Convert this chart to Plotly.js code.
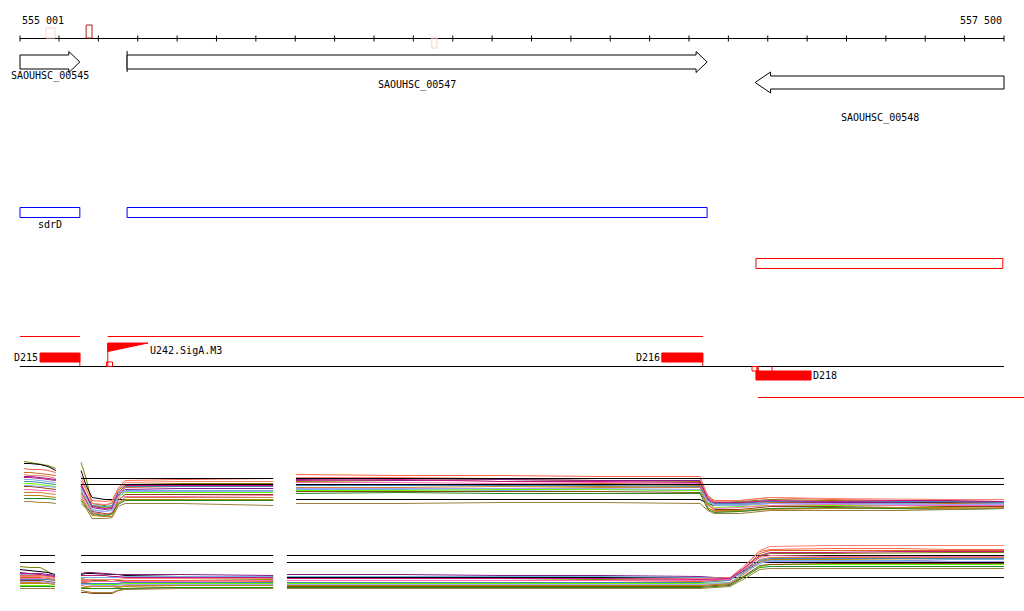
<!DOCTYPE html>
<html>
<head>
<meta charset="utf-8">
<script src="https://cdn.plot.ly/plotly-3.0.1.min.js"></script>
<style>html,body{margin:0;padding:0;background:#fff;}#chart{width:1024px;height:611px;}</style>
</head>
<body>
<div id="chart"></div>
<script>
// ---------------- DATA ----------------
const regionStart = 555001;
const regionEnd = 557500;
const regionLabels = ['555 001', '557 500'];

const geneNames = ['SAOUHSC_00545', 'SAOUHSC_00547', 'SAOUHSC_00548'];
const geneStarts = [555001, 555273, 556868];
const geneEnds = [555153, 556746, 557500];
const geneStrands = ['+', '+', '-'];

const operonNames = ['sdrD', ''];
const operonStarts = [555001, 555273];
const operonEnds = [555153, 556746];
const revOperonStarts = [556870];
const revOperonEnds = [557497];

const markerStarts = [555067, 555169, 556047];
const markerEnds = [555090, 555184, 556060];
const markerColors = ['#f8d3c6', '#b01c1c', '#f8d3c6'];

const fwdTUStarts = [555001, 555224];
const fwdTUEnds = [555153, 556736];
const revTUStarts = [556875];
const revTUEnds = [557551];

const termNames = ['D215', 'D216'];
const termStarts = [555052, 556631];
const termEnds = [555153, 556735];
const revTermNames = ['D218'];
const revTermStarts = [556870];
const revTermEnds = [557010];
const revTermSmallStarts = [556860, 556873];
const revTermSmallEnds = [556873, 556876];
const revTermTick = [556911];

const promoterNames = ['U242.SigA.M3'];
const promoterStarts = [555224];
const promoterEnds = [555326];

// expression tiles (arbitrary signal units), null = gap
const topX = [555011,555026,555052,555072,555092,null,
  555156,555169,555184,555217,555235,555250,555268,555407,555644,null,
  555702,555966,556220,556474,556728,556748,556764,556830,556906,557058,557236,557363,557500];
const bottomX = [555001,555026,555052,555072,555090,null,
  555156,555169,555184,555217,555235,555250,555268,555407,555644,null,
  555679,555966,556220,556474,556728,556804,556842,556880,556906,557058,557236,557363,557500];

const seriesColors = ['#808000','#000000','#ff6347','#d2691e','#8b1a8b','#6fb3e0','#66ff00',
  '#8b4513','#ff69b4','#cd853f','#b8860b','#228b22','#9c7f3a','#fa8072','#4682b4','#c71585','#a0a0ff'];

const topValues = [
  [59,58,57,55,52,null,58,42,17,15,18,30,36,37,37,null,39,40,41,40,39,25,20,19,21,20,19,19,18],
  [57,57,56,54,50,null,50,35,23,21,21,21,21,21,21,null,21,21,21,21,21,17,15,16,17,17,18,18,19],
  [52,51,51,50,48,null,40,30,20,19,20,32,40,41,42,null,46,45,45,44,44,24,20,20,23,21,20,21,21],
  [48,48,47,46,45,null,37,27,15,13,13,25,33,34,34,null,36,36,36,37,36,20,15,15,18,18,17,17,17],
  [44,44,43,42,41,null,34,25,13,11,12,25,31,32,32,null,41,40,41,40,40,21,17,18,19,18,18,19,18],
  [41,41,40,39,38,null,32,23,11,9,11,26,30,30,30,null,31,31,30,31,30,18,16,16,17,16,17,16,17],
  [37,37,36,35,34,null,30,21,14,13,14,23,28,28,28,null,30,30,31,31,30,17,13,14,15,15,15,14,14],
  [34,34,33,32,31,null,28,20,9,7,7,20,26,26,26,null,29,29,29,29,28,16,11,11,14,14,13,14,14],
  [31,31,30,30,29,null,26,18,8,6,8,22,24,24,25,null,38,38,37,38,37,15,12,13,15,16,15,15,15],
  [28,28,28,27,26,null,24,16,6,4,4,17,23,23,23,null,33,33,34,33,33,13,9,9,11,12,12,12,13],
  [25,25,25,24,23,null,22,14,5,4,6,18,21,21,21,null,36,35,35,34,35,12,10,10,12,12,13,13,12],
  [22,22,22,22,21,null,20,13,7,5,7,16,20,20,20,null,27,28,27,27,27,11,8,9,12,13,12,11,12],
  [19,19,18,18,17,null,17,12,2,2,3,14,17,17,15,null,17,17,18,18,17,10,7,7,10,10,10,11,12],
  [46,45,45,44,42,null,44,32,17,16,17,31,38,39,39,null,43,43,42,42,42,23,19,20,23,22,21,21,21],
  [39,39,38,37,36,null,35,26,15,14,15,28,34,34,34,null,35,35,35,35,34,21,17,17,19,19,19,19,18],
  [43,43,42,41,40,null,36,26,14,12,13,27,35,35,35,null,40,41,39,39,38,22,18,18,20,19,20,20,19],
  [35,35,34,34,33,null,31,22,10,9,10,24,29,29,29,null,32,32,32,32,31,19,15,15,17,17,16,16,16]
];
const bottomValues = [
  [39,38,38,34,27,null,27,26,25,25,24,25,25,25,26,null,25,25,25,26,25,26,35,49,52,52,53,53,53],
  [36,35,34,33,31,null,31,32,32,31,31,31,30,29,29,null,28,28,28,28,28,28,28,28,28,28,28,28,28],
  [30,30,30,29,28,null,25,25,24,24,24,24,25,25,25,null,25,25,25,25,25,27,40,54,56,57,57,56,56],
  [28,28,28,27,26,null,23,23,22,22,22,22,23,23,24,null,23,23,23,23,24,26,38,52,55,55,55,55,55],
  [33,32,32,31,30,null,32,33,33,32,31,31,31,31,30,null,31,31,30,30,29,27,35,43,45,45,45,44,44],
  [31,31,31,30,29,null,28,28,28,28,28,28,29,29,29,null,29,29,29,29,28,27,33,42,45,45,45,46,46],
  [20,20,20,20,21,null,21,21,21,21,21,21,22,22,22,null,22,22,22,22,22,23,29,39,41,41,41,41,41],
  [25,25,25,24,23,null,13,13,12,12,12,15,17,18,18,null,19,19,19,19,19,21,30,40,41,42,42,42,42],
  [27,27,27,26,25,null,24,24,24,24,24,24,24,24,25,null,25,25,25,25,25,26,37,48,50,49,49,49,49],
  [23,23,23,22,22,null,20,19,19,19,19,19,20,20,20,null,20,20,20,20,20,22,34,46,48,48,48,48,48],
  [22,22,22,22,21,null,18,18,17,17,17,18,19,20,20,null,20,20,20,20,20,22,32,44,46,46,47,47,47],
  [19,19,19,19,19,null,17,17,17,17,17,17,17,18,18,null,18,18,18,18,18,20,29,38,39,39,39,39,39],
  [17,17,17,17,17,null,15,14,13,13,13,15,16,17,17,null,17,17,17,17,17,19,27,36,37,37,37,37,37],
  [29,29,29,28,27,null,26,26,26,26,26,26,27,27,27,null,27,27,27,27,27,28,40,55,59,60,60,60,60],
  [26,26,26,26,25,null,22,22,22,22,22,22,23,23,23,null,23,23,23,23,23,25,36,45,47,47,47,47,47],
  [32,32,31,30,29,null,30,30,30,30,29,29,28,28,28,null,27,27,27,27,26,27,38,50,53,53,54,54,54],
  [24,24,24,23,22,null,21,21,20,20,20,20,21,21,21,null,21,21,21,21,21,23,33,43,44,44,44,44,44]
];
// reference levels
const topRefLevels = [42, 36];
const topRefX = [555156, 555644, null, 555702, 557500];
const bottomRefLevels = [50, 43];
const bottomRefX = [555001, 555090, null, 555156, 555644, null, 555679, 557500];

// ---------------- LAYOUT / DRAW ----------------
const W = 1024, H = 611;
const pxLeft = 20, pxRight = 1004;
const bpPerPx = (regionEnd - regionStart) / (pxRight - pxLeft);
const xRange = [regionStart - pxLeft * bpPerPx, regionEnd + (W - pxRight) * bpPerPx];

const shapes = [];
const annotations = [];
const font = {family: 'DejaVu Sans Mono', size: 10, color: '#000'};
function line(x0, x1, y0, y1, color) {
  shapes.push({type: 'line', xref: 'x', yref: 'y', x0, x1, y0, y1, line: {color, width: 1}});
}
function rect(x0, x1, y0, y1, color, fill) {
  shapes.push({type: 'rect', xref: 'x', yref: 'y', x0, x1, y0, y1,
    line: {color, width: 1}, fillcolor: fill || 'rgba(0,0,0,0)'});
}
function path(d, color, fill) {
  shapes.push({type: 'path', xref: 'x', yref: 'y', path: d,
    line: {color, width: 1}, fillcolor: fill || 'rgba(0,0,0,0)'});
}
function label(text, x, y, anchor) {
  annotations.push({text, x, y, xref: 'x', yref: 'y', showarrow: false,
    xanchor: anchor || 'center', yanchor: 'middle', font});
}

// ruler
const rulerY = 38.5;
line(regionStart, regionEnd, rulerY, rulerY, '#000');
label(regionLabels[0], regionStart, 20, 'left');
label(regionLabels[1], regionEnd, 20, 'right');
const tickX = [regionStart];
for (let t = Math.ceil((regionStart + 1) / 100) * 100; t <= regionEnd; t += 100) tickX.push(t);
tickX.forEach(t => line(t, t, 35.5, 41.5, '#000'));
// markers near ruler
const markerY = [[28, 38], [25, 38], [38, 48]];
markerStarts.forEach((s, i) => rect(s, markerEnds[i], markerY[i][0], markerY[i][1], markerColors[i]));

// genes
const geneRowY = [62, 62, 82.5];
const geneLabelY = [76, 85, 118];
const headBp = 28;
geneNames.forEach((n, i) => {
  const s = geneStarts[i], e = geneEnds[i], c = geneRowY[i];
  let d;
  if (geneStrands[i] === '+') {
    const h = e - headBp;
    d = `M${s},${c-7} L${h},${c-7} L${h},${c-10.5} L${e},${c} L${h},${c+10.5} L${h},${c+7} L${s},${c+7} Z`;
    if (i > 0) line(s, s, c - 11, c + 10, '#000');
  } else {
    const h = s + headBp * 1.4;
    d = `M${e},${c-6.5} L${h},${c-6.5} L${h},${c-10.5} L${s},${c} L${h},${c+10.5} L${h},${c+6.5} L${e},${c+6.5} Z`;
  }
  path(d, '#000', '#fff');
  label(n, (s + e) / 2, geneLabelY[i]);
});

// operons
operonStarts.forEach((s, i) => {
  rect(s, operonEnds[i], 207.5, 217.5, '#0000ff');
  if (operonNames[i]) label(operonNames[i], (s + operonEnds[i]) / 2, 224);
});
revOperonStarts.forEach((s, i) => rect(s, revOperonEnds[i], 258.5, 268.5, '#ff0000'));

// transcription units
fwdTUStarts.forEach((s, i) => line(s, fwdTUEnds[i], 336.5, 336.5, '#ff0000'));
revTUStarts.forEach((s, i) => line(s, revTUEnds[i], 397.5, 397.5, '#ff0000'));

// baseline
line(regionStart, regionEnd, 366.5, 366.5, '#000');

// terminators (forward)
termNames.forEach((n, i) => {
  rect(termStarts[i], termEnds[i], 353, 362, '#ff0000', '#ff0000');
  line(termEnds[i], termEnds[i], 353, 366, '#ff0000');
  label(n, termStarts[i], 357, 'right');
});
// promoter
promoterNames.forEach((n, i) => {
  const s = promoterStarts[i], e = promoterEnds[i];
  path(`M${s},343 L${e},343 L${s},351.5 Z`, '#ff0000', '#ff0000');
  line(s, s, 343, 366, '#ff0000');
  rect(s - 3, s + 12, 362, 366.5, '#ff0000');
  label(n, e, 350, 'left');
});
// terminators (reverse)
revTermNames.forEach((n, i) => {
  rect(revTermStarts[i], revTermEnds[i], 371, 380, '#ff0000', '#ff0000');
  label(n, revTermEnds[i], 375.5, 'left');
});
revTermSmallStarts.forEach((s, i) => rect(s, revTermSmallEnds[i], 366.5, 371, '#ff0000'));
revTermTick.forEach(t => line(t, t, 366.5, 371, '#ff0000'));

// expression traces
const traces = [];
function refTrace(xs, level, yaxis) {
  return {x: xs, y: xs.map(v => v === null ? null : level), yaxis, mode: 'lines',
    line: {color: '#000', width: 1}, connectgaps: false, hoverinfo: 'skip', showlegend: false};
}
bottomRefLevels.forEach(l => traces.push(refTrace(bottomRefX, l, 'y3')));
topValues.forEach((row, i) => traces.push({x: topX, y: row, yaxis: 'y2', mode: 'lines',
  line: {color: seriesColors[i], width: 1}, connectgaps: false, hoverinfo: 'skip', showlegend: false}));
bottomValues.forEach((row, i) => traces.push({x: bottomX, y: row, yaxis: 'y3', mode: 'lines',
  line: {color: seriesColors[i], width: 1}, connectgaps: false, hoverinfo: 'skip', showlegend: false}));
topRefLevels.forEach(l => traces.push(refTrace(topRefX, l, 'y2')));
// invisible trace anchoring the main track axis
traces.push({x: [regionStart], y: [0], yaxis: 'y', mode: 'markers', marker: {opacity: 0}, hoverinfo: 'skip', showlegend: false});

const layout = {
  width: W, height: H,
  margin: {l: 0, r: 0, t: 0, b: 0, pad: 0},
  paper_bgcolor: '#fff', plot_bgcolor: 'rgba(0,0,0,0)',
  showlegend: false,
  xaxis: {range: xRange, visible: false, fixedrange: true},
  yaxis: {range: [H, 0], domain: [0, 1], visible: false, fixedrange: true},
  yaxis2: {range: [0, 70], domain: [1 - 520.5 / H, 1 - 450.5 / H], visible: false, anchor: 'x'},
  yaxis3: {range: [0, 70], domain: [1 - 605.5 / H, 1 - 535.5 / H], visible: false, anchor: 'x'},
  shapes, annotations
};
Plotly.newPlot('chart', traces, layout, {staticPlot: true, displayModeBar: false});
</script>
</body>
</html>
